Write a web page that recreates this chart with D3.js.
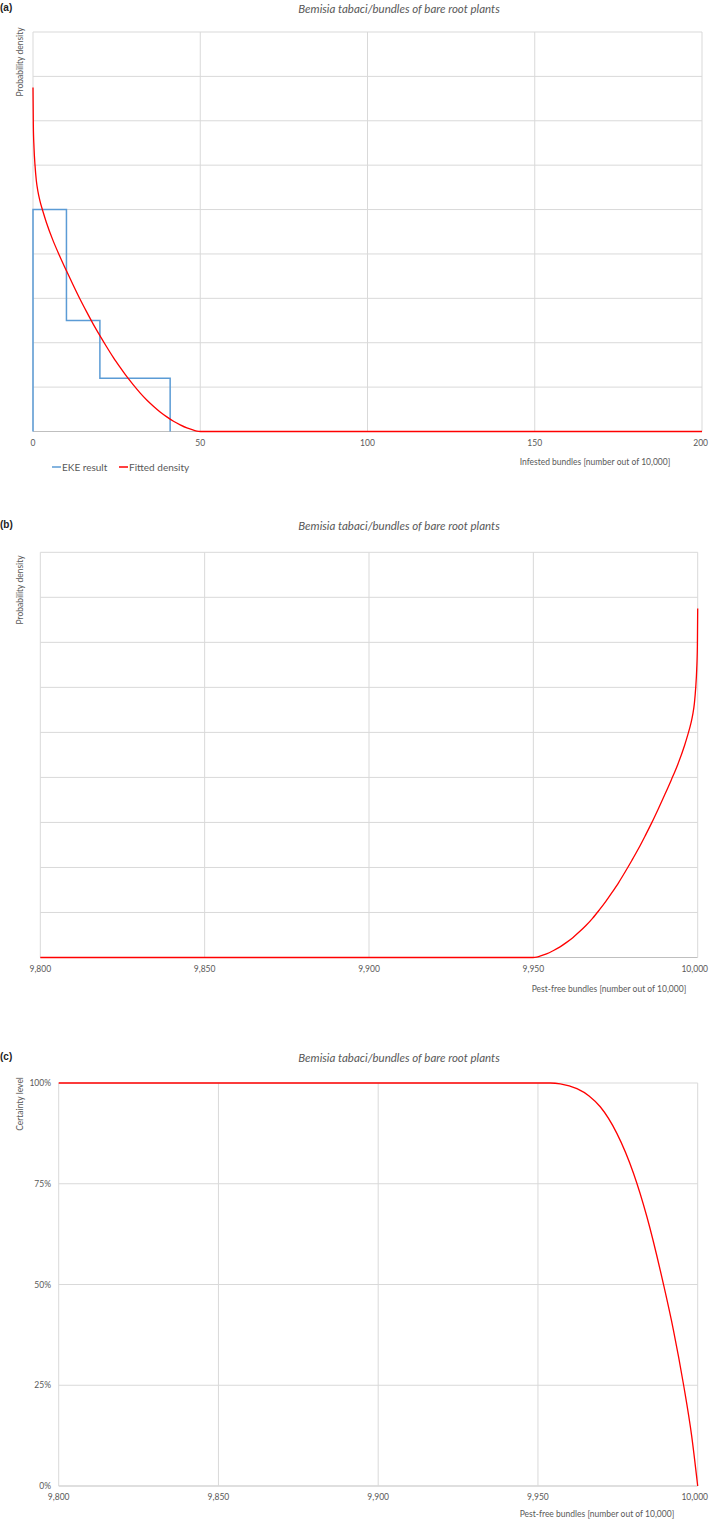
<!DOCTYPE html>
<html>
<head>
<meta charset="utf-8">
<script src="https://cdn.jsdelivr.net/npm/d3@7"></script>
<style>
  body { margin: 0; background: #fff; }
  svg { display: block; font-family: Lato, "Open Sans", sans-serif; }
</style>
</head>
<body>
<svg class="ekecharts" width="709" height="1521"></svg>
<script>
// chart values
var chartTitle = "Bemisia tabaci/bundles of bare root plants";

// EKE histogram (infested bundles, density per unit)
var ekeEdges = [0, 10, 20, 41];
var ekeDensity = [0.05, 0.025, 0.012];

// fitted density, infested bundles out of 10,000
var infested = [0, 0.1, 0.3, 0.6, 1, 1.5, 2, 3, 4, 6, 8, 10, 12, 14, 16, 18, 20, 22, 24, 26, 28, 30, 32, 34, 36, 38, 40, 42, 44, 46, 48, 49, 50, 100, 150, 200];
var fittedDensity = [0.0775, 0.069, 0.064, 0.060, 0.0565, 0.054, 0.0522, 0.0495, 0.0471, 0.0430, 0.0395, 0.0362, 0.0330, 0.0299, 0.0270, 0.0242, 0.0216, 0.0191, 0.0167, 0.0145, 0.0124, 0.0105, 0.0087, 0.0071, 0.0057, 0.0044, 0.0033, 0.0023, 0.0015, 0.0008, 0.0003, 0.0001, 0, 0, 0, 0];

// certainty level (%) against pest-free bundles
var pestFree = [9800, 9900, 9950, 9953.8, 9957, 9962.2, 9966, 9969.5, 9974.7, 9979.9, 9984.1, 9989.3, 9992.4, 9995.6, 9998.1, 10000];
var certainty = [100, 100, 100, 100, 99.8, 98.6, 96.8, 94.1, 87.5, 77.6, 66.8, 50, 38.7, 25, 12.5, 0];

var infTicks = [0, 50, 100, 150, 200];
var pfTicks = [9800, 9850, 9900, 9950, 10000];
var pctTicks = [0, 25, 50, 75, 100];

(function ekeChartsIIFE() {
    var svg = d3.select("svg.ekecharts");
    var textCol = "#595959", gridCol = "#d9d9d9", axisCol = "#bfbfbf";
    var red = "#ff0000", blue = "#5b9bd5";
    var fmt = d3.format(",");

    function header(letter, y) {
        svg.append("text").attr("x", 0).attr("y", y)
            .attr("font-family", "Liberation Sans, Arial, sans-serif")
            .attr("font-weight", "bold").attr("font-size", 10).attr("fill", "#222")
            .text(letter);
        svg.append("text").attr("x", 399).attr("y", y + 2)
            .attr("text-anchor", "middle").attr("font-style", "italic")
            .attr("font-size", 11.5).attr("fill", textCol)
            .text(chartTitle);
    }

    function yTitle(text, cy) {
        svg.append("text")
            .attr("transform", "translate(23," + cy + ") rotate(-90)")
            .attr("text-anchor", "middle").attr("font-size", 8.5).attr("fill", textCol)
            .text(text);
    }

    function frame(x, y, xTicks, yTicks, xFormat) {
        var g = svg.append("g");
        g.selectAll("line.h").data(yTicks).enter().append("line")
            .attr("x1", x.range()[0]).attr("x2", x.range()[1])
            .attr("y1", function(d) { return y(d); }).attr("y2", function(d) { return y(d); })
            .attr("stroke", function(d, i) { return i === 0 ? axisCol : gridCol; })
            .attr("stroke-width", 1);
        g.selectAll("line.v").data(xTicks).enter().append("line")
            .attr("x1", function(d) { return x(d); }).attr("x2", function(d) { return x(d); })
            .attr("y1", y.range()[0]).attr("y2", y.range()[1])
            .attr("stroke", gridCol).attr("stroke-width", 1);
        g.selectAll("text.xt").data(xTicks).enter().append("text")
            .attr("x", function(d) { return x(d); })
            .attr("y", y.range()[0] + 14)
            .attr("text-anchor", "middle").attr("font-size", 8.5).attr("fill", textCol)
            .text(xFormat)
            .each(function(d) {
                // keep the last label inside the page
                var w = this.getComputedTextLength();
                if (x(d) + w / 2 > 708) d3.select(this).attr("x", 708 - w / 2);
            });
        return g;
    }

    // (a) infested bundles, density
    header("(a)", 11);
    var xa = d3.scaleLinear().domain([0, 200]).range([33, 702]);
    var ya = d3.scaleLinear().domain([0, 0.09]).range([431.5, 32]);
    frame(xa, ya, infTicks, d3.range(0, 0.0901, 0.01), fmt);
    yTitle("Probability density", 62);
    svg.append("text").attr("x", 595).attr("y", 465)
        .attr("text-anchor", "middle").attr("font-size", 8.5).attr("fill", textCol)
        .text("Infested bundles [number out of 10,000]");

    var steps = [[ekeEdges[0], 0]];
    ekeDensity.forEach(function(d, i) {
        steps.push([ekeEdges[i], d]);
        steps.push([ekeEdges[i + 1], d]);
    });
    steps.push([ekeEdges[ekeEdges.length - 1], 0]);
    svg.append("path").datum(steps)
        .attr("fill", "none").attr("stroke", blue).attr("stroke-width", 1.5)
        .attr("d", d3.line().x(function(d) { return xa(d[0]); }).y(function(d) { return ya(d[1]); }));

    svg.append("path").datum(d3.zip(infested, fittedDensity))
        .attr("fill", "none").attr("stroke", red).attr("stroke-width", 1.3)
        .attr("d", d3.line().curve(d3.curveMonotoneX)
            .x(function(d) { return xa(d[0]); }).y(function(d) { return ya(d[1]); }));

    var legend = svg.append("g").attr("transform", "translate(52,467)");
    [["EKE result", blue, 0], ["Fitted density", red, 67]].forEach(function(l) {
        legend.append("line").attr("x1", l[2]).attr("x2", l[2] + 9).attr("y1", 0).attr("y2", 0)
            .attr("stroke", l[1]).attr("stroke-width", 1.5);
        legend.append("text").attr("x", l[2] + 10).attr("y", 3.5)
            .attr("font-size", 10).attr("fill", textCol).text(l[0]);
    });

    // (b) pest-free bundles, density
    header("(b)", 528);
    var xb = d3.scaleLinear().domain([9800, 10000]).range([40.3, 697.7]);
    var yb = d3.scaleLinear().domain([0, 0.09]).range([957.5, 552.3]);
    frame(xb, yb, pfTicks, d3.range(0, 0.0901, 0.01), fmt);
    yTitle("Probability density", 590);
    svg.append("text").attr("x", 609).attr("y", 992)
        .attr("text-anchor", "middle").attr("font-size", 8.5).attr("fill", textCol)
        .text("Pest-free bundles [number out of 10,000]");

    svg.append("path").datum(d3.zip(infested, fittedDensity).reverse())
        .attr("fill", "none").attr("stroke", red).attr("stroke-width", 1.3)
        .attr("d", d3.line().curve(d3.curveMonotoneX)
            .x(function(d) { return xb(10000 - d[0]); }).y(function(d) { return yb(d[1]); }));

    // (c) certainty level
    header("(c)", 1060);
    var xc = d3.scaleLinear().domain([9800, 10000]).range([58.7, 697.7]);
    var yc = d3.scaleLinear().domain([0, 100]).range([1486, 1083]);
    frame(xc, yc, pfTicks, pctTicks, fmt);
    svg.append("g").selectAll("text").data(pctTicks).enter().append("text")
        .attr("x", 51).attr("y", function(d) { return yc(d) + 3; })
        .attr("text-anchor", "end").attr("font-size", 8.5).attr("fill", textCol)
        .text(function(d) { return d + "%"; });
    yTitle("Certainty level", 1104);
    svg.append("text").attr("x", 597).attr("y", 1517)
        .attr("text-anchor", "middle").attr("font-size", 8.5).attr("fill", textCol)
        .text("Pest-free bundles [number out of 10,000]");

    svg.append("path").datum(d3.zip(pestFree, certainty))
        .attr("fill", "none").attr("stroke", red).attr("stroke-width", 1.3)
        .attr("d", d3.line().curve(d3.curveMonotoneX)
            .x(function(d) { return xc(d[0]); }).y(function(d) { return yc(d[1]); }));
})();
</script>
</body>
</html>
